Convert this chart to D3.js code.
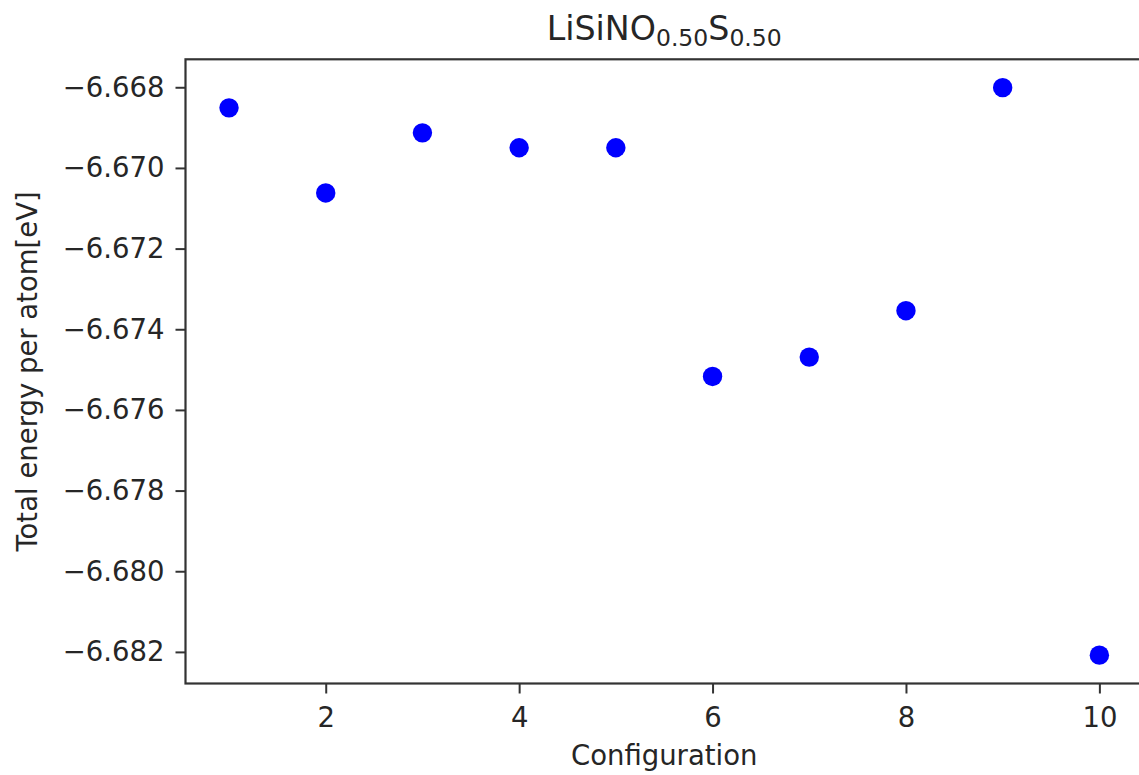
<!DOCTYPE html>
<html>
<head>
<meta charset="utf-8">
<script src="https://cdn.jsdelivr.net/npm/d3@7"></script>
<style>
  html, body { margin: 0; padding: 0; background: #fff; }
  svg { display: block; }
  text { font-family: "DejaVu Sans", sans-serif; fill: #262626; }
</style>
</head>
<body>
<svg id="chart" width="1139" height="775"></svg>
<script>
// ---- data ----
const configurations = [1, 2, 3, 4, 5, 6, 7, 8, 9, 10];
const energies = [-6.66851, -6.67062, -6.66913, -6.66950, -6.66950,
                  -6.67517, -6.67469, -6.67354, -6.66801, -6.68208];
const xTicks = [2, 4, 6, 8, 10];
const yTicks = [-6.682, -6.680, -6.678, -6.676, -6.674, -6.672, -6.670, -6.668];
const titleParts = [["LiSiNO", false], ["0.50", true], ["S", false], ["0.50", true]];
const xLabel = "Configuration";
const yLabel = "Total energy per atom[eV]";

(function () {
// ---- layout ----
const pLeft = 185.5, pRight = 1142.9, pTop = 59.3, pBottom = 683.5;
const svg = d3.select("#chart");

// matplotlib-like 5% margins
const xmin = d3.min(configurations), xmax = d3.max(configurations);
const xm = (xmax - xmin) * 0.05;
const ymin = d3.min(energies), ymax = d3.max(energies);
const ym = (ymax - ymin) * 0.05;

const x = d3.scaleLinear().domain([xmin - xm, xmax + xm]).range([pLeft, pRight]);
const y = d3.scaleLinear().domain([ymin - ym, ymax + ym]).range([pBottom, pTop]);

// axes
const xAxis = svg.append("g").attr("transform", `translate(0,${pBottom})`)
  .call(d3.axisBottom(x).tickValues(xTicks).tickFormat(d3.format("d"))
        .tickSizeInner(10).tickSizeOuter(0).tickPadding(14));
const yAxis = svg.append("g").attr("transform", `translate(${pLeft},0)`)
  .call(d3.axisLeft(y).tickValues(yTicks).tickFormat(d3.format(".3f"))
        .tickSizeInner(10).tickSizeOuter(0).tickPadding(11));

[xAxis, yAxis].forEach(g => {
  g.select(".domain").remove();
  g.selectAll(".tick line").attr("stroke", "#333").attr("stroke-width", 2);
  g.selectAll(".tick text").attr("font-size", 27.5).attr("fill", "#262626")
    .style("font-family", "DejaVu Sans, sans-serif");
});

// spines
svg.append("rect")
  .attr("x", pLeft).attr("y", pTop)
  .attr("width", pRight - pLeft).attr("height", pBottom - pTop)
  .attr("fill", "none").attr("stroke", "#333").attr("stroke-width", 2.2);

// points
svg.append("g").selectAll("circle")
  .data(configurations.map((c, i) => [c, energies[i]]))
  .join("circle")
  .attr("cx", d => x(d[0]))
  .attr("cy", d => y(d[1]))
  .attr("r", 9.7)
  .attr("fill", "#0000ff");

// title
const title = svg.append("text")
  .attr("x", (pLeft + pRight) / 2).attr("y", 40)
  .attr("text-anchor", "middle").attr("font-size", 33.3);
titleParts.forEach(([t, sub], i) => {
  const ts = title.append("tspan").text(t);
  if (sub) ts.attr("font-size", 23.5).attr("dy", 6);
  else if (i > 0) ts.attr("dy", -6);
});

// axis labels
svg.append("text")
  .attr("x", (pLeft + pRight) / 2).attr("y", 765)
  .attr("text-anchor", "middle").attr("font-size", 27.5)
  .text(xLabel);

svg.append("text")
  .attr("transform", `translate(37,${(pTop + pBottom) / 2}) rotate(-90)`)
  .attr("text-anchor", "middle").attr("font-size", 27.5)
  .text(yLabel);
})();
</script>
</body>
</html>
